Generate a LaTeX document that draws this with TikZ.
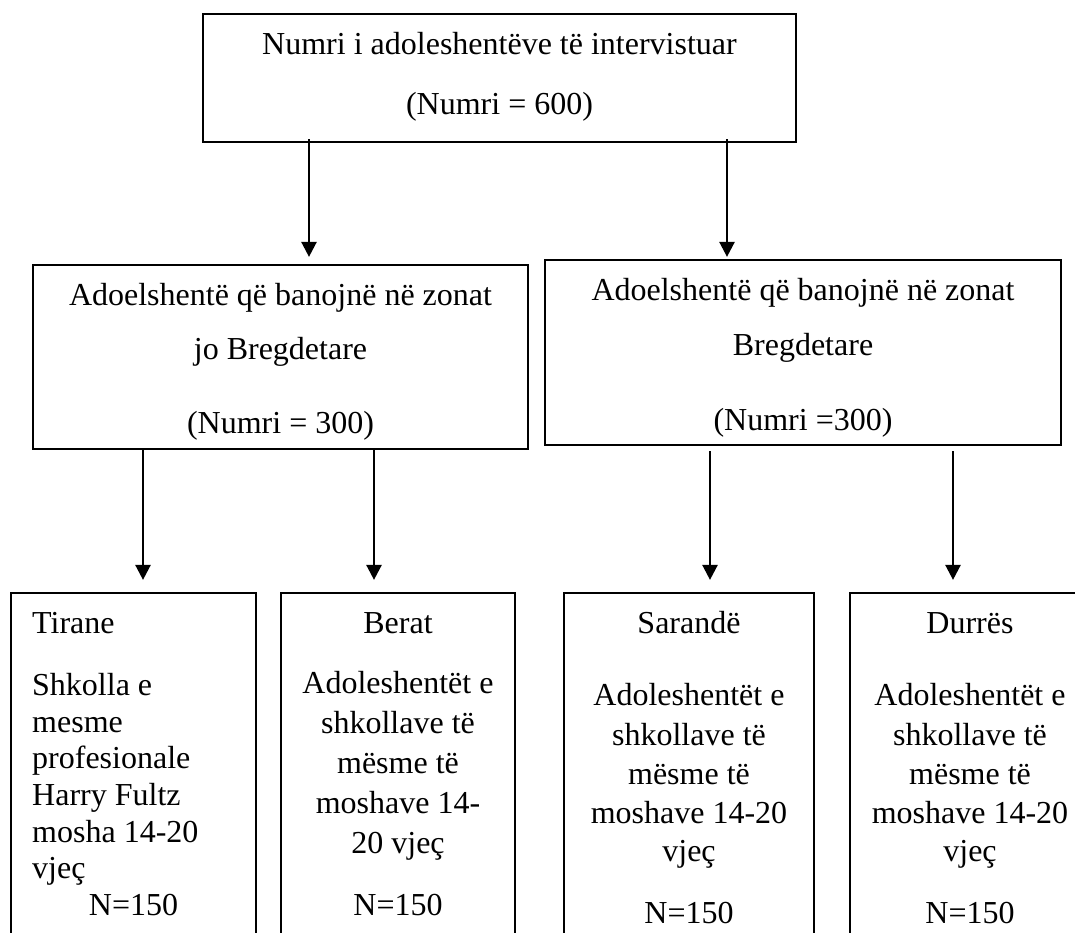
\documentclass[tikz,border=0pt]{standalone}
\usepackage{fontspec}
\setmainfont{Liberation Serif}
\usetikzlibrary{arrows.meta}
\tikzset{
  box/.style={draw=black, line width=2.2pt, rectangle, inner sep=0pt},
  txt/.style={inner sep=0pt, font={\fontsize{32}{37}\selectfont}},
  arr/.style={draw=black, line width=2.5pt, -{Triangle[width=15pt,length=15pt]}},
}
\begin{document}
\begin{tikzpicture}[x=1pt, y=-1pt]
\useasboundingbox (0,0) rectangle (1075,933);
\fill[white] (0,0) rectangle (1075,933);
\clip (0,0) rectangle (1075,933);

% boxes
\node[box, minimum width=593pt, minimum height=128pt] (top) at (499.5,78) {};
\node[box, minimum width=495pt, minimum height=184pt] (lmid) at (280.5,357) {};
\node[box, minimum width=516pt, minimum height=185pt] (rmid) at (803,352.5) {};
\node[box, minimum width=245pt, minimum height=367pt] (b1) at (133.5,776.5) {};
\node[box, minimum width=234pt, minimum height=367pt] (b2) at (398,776.5) {};
\node[box, minimum width=250pt, minimum height=367pt] (b3) at (689,776.5) {};
\node[box, minimum width=239pt, minimum height=367pt] (b4) at (969.5,776.5) {};

% top box text
\node[txt, anchor=base] (t1) at (499.5,55) {Numri i adoleshentëve të intervistuar};
\node[txt, anchor=base] (t2) at (499.5,115) {(Numri = 600)};

% middle boxes text
\node[txt, anchor=base] (l1) at (280.5,305) {Adoelshentë që banojnë në zonat};
\node[txt, anchor=base] (l2) at (280.5,359) {jo Bregdetare};
\node[txt, anchor=base] (l3) at (280.5,433) {(Numri = 300)};
\node[txt, anchor=base] (r1) at (803,300) {Adoelshentë që banojnë në zonat};
\node[txt, anchor=base] (r2) at (803,355) {Bregdetare};
\node[txt, anchor=base] (r3) at (803,430) {(Numri =300)};

% Tirane
\node[txt, anchor=base west] (p1h) at (32,633) {Tirane};
\foreach \t/\y [count=\i] in {Shkolla e/695, mesme/732, profesionale/768, Harry Fultz/805, mosha 14-20/842, vjeç/878}
  \node[txt, anchor=base west] (p1l\i) at (32,\y) {\t};
\node[txt, anchor=base] (p1n) at (133.5,915) {N=150};

% Berat
\node[txt, anchor=base] (p2h) at (398,633) {Berat};
\foreach \t/\y [count=\i] in {Adoleshentët e/693, shkollave të/733, mësme të/773, moshave 14-/813, 20 vjeç/853}
  \node[txt, anchor=base] (p2l\i) at (398,\y) {\t};
\node[txt, anchor=base] (p2n) at (398,915) {N=150};

% Sarande
\node[txt, anchor=base] (p3h) at (689,633) {Sarandë};
\foreach \t/\y [count=\i] in {Adoleshentët e/705, shkollave të/745, mësme të/784, moshave 14-20/823, vjeç/861}
  \node[txt, anchor=base] (p3l\i) at (689,\y) {\t};
\node[txt, anchor=base] (p3n) at (689,923) {N=150};

% Durres
\node[txt, anchor=base] (p4h) at (970,633) {Durrës};
\foreach \t/\y [count=\i] in {Adoleshentët e/705, shkollave të/745, mësme të/784, moshave 14-20/823, vjeç/861}
  \node[txt, anchor=base] (p4l\i) at (970,\y) {\t};
\node[txt, anchor=base] (p4n) at (970,923) {N=150};

% arrow columns
\coordinate (c1) at (309,0);
\coordinate (c2) at (727,0);
\coordinate (c3) at (143,0);
\coordinate (c4) at (374,0);
\coordinate (c5) at (710,0);
\coordinate (c6) at (953,0);

\draw[arr, shorten <=-4pt, shorten >=7pt] (c1 |- top.south) -- (c1 |- lmid.north);
\draw[arr, shorten <=-4pt, shorten >=2pt] (c2 |- top.south) -- (c2 |- rmid.north);
\draw[arr, shorten >=12pt] (c3 |- lmid.south) -- (c3 |- b1.north);
\draw[arr, shorten >=12pt] (c4 |- lmid.south) -- (c4 |- b2.north);
\draw[arr, shorten <=5pt, shorten >=12pt] (c5 |- rmid.south) -- (c5 |- b3.north);
\draw[arr, shorten <=5pt, shorten >=12pt] (c6 |- rmid.south) -- (c6 |- b4.north);
\end{tikzpicture}
\end{document}
